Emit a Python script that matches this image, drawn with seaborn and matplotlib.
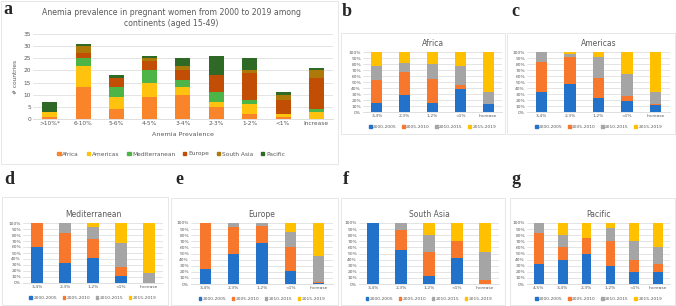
import numpy as np
import seaborn as sns
from matplotlib import pyplot as plt
from matplotlib.patches import Patch, Rectangle

# panel a: number of countries per prevalence class
prev_cats = ['>10%*', '6-10%', '5-6%', '4-5%', '3-4%', '2-3%', '1-2%', '<1%', 'Increase']
regions = ['Africa', 'Americas', 'Mediterranean', 'Europe', 'South Asia', 'Pacific']
africa = [1, 13, 4, 9, 10, 5, 2, 1, 0]
americas = [2, 9, 5, 6, 3, 2, 4, 1, 3]
mediterranean = [0, 3, 4, 5, 3, 4, 2, 0, 1]
europe = [0, 2, 4, 4, 4, 7, 11, 6, 13]
south_asia = [0, 3, 0, 1, 2, 0, 1, 2, 3]
pacific = [4, 1, 1, 1, 3, 8, 5, 1, 1]
region_colors = ['#FA8429', '#FFC20E', '#4DB548', '#C24D05', '#AD7A0A', '#2E6A26']

# panels b-g: share of countries per period (%)
periods = ['2000-2005', '2005-2010', '2010-2015', '2015-2019']
period_colors = ['#2272C9', '#F7782C', '#A5A5A5', '#FFC000']
cats5 = ['3-4%', '2-3%', '1-2%', '<1%', 'Increase']
cats6 = ['4-5%', '3-4%', '2-3%', '1-2%', '<1%', 'Increase']

africa_p = [[15, 28, 15, 38, 13], [39, 39, 40, 7, 0], [23, 15, 25, 32, 20], [23, 18, 20, 23, 67]]
americas_p = [[34, 47, 23, 19, 11], [50, 45, 34, 8, 3], [16, 4, 35, 37, 20], [0, 4, 8, 36, 66]]
medit_p = [[60, 33, 41, 11, 0], [40, 50, 33, 16, 0], [0, 17, 19, 40, 17], [0, 0, 7, 33, 83]]
europe_p = [[25, 50, 67, 22, 2], [75, 43, 28, 39, 2], [0, 7, 5, 24, 42], [0, 0, 0, 15, 54]]
sasia_p = [[100, 56, 13, 43, 0], [0, 33, 40, 28, 7], [0, 11, 27, 0, 46], [0, 0, 20, 29, 47]]
pacific_p = [[33, 40, 50, 29, 20, 19], [50, 20, 25, 42, 19, 14], [17, 20, 0, 20, 31, 27], [0, 20, 25, 9, 30, 40]]

W, H = 676.0, 306.0
TXT = '#595959'
GRID = '#D9D9D9'


def px_axes(fig, left, right, top, bottom):
    return fig.add_axes([left / W, 1 - bottom / H, (right - left) / W, (bottom - top) / H])


def px_box(fig, left, right, top, bottom):
    fig.add_artist(Rectangle((left / W, 1 - bottom / H), (right - left) / W, (bottom - top) / H,
                             transform=fig.transFigure, fill=False, edgecolor='#E3E3E3', lw=0.6))


# stacked bars with seaborn: draw cumulative totals from top series down
def stacked(ax, cats, series, colors, width):
    cum = np.cumsum(np.array(series, dtype=float), axis=0)
    for i in range(len(series) - 1, -1, -1):
        sns.barplot(x=cats, y=cum[i], order=cats, color=colors[i], width=width,
                    saturation=1, linewidth=0, ax=ax)


def style_axes(ax, fs):
    ax.set_xlabel('')
    ax.set_ylabel('')
    for s in ['top', 'right', 'left']:
        ax.spines[s].set_visible(False)
    ax.spines['bottom'].set_color(GRID)
    ax.spines['bottom'].set_linewidth(0.6)
    ax.yaxis.grid(True, color=GRID, lw=0.5)
    ax.set_axisbelow(True)
    ax.tick_params(axis='both', length=0, labelsize=fs, colors=TXT, pad=1.5)


def share_panel(fig, pos, box, label, lab_xy, title, cats, data):
    px_box(fig, *box)
    ax = px_axes(fig, *pos)
    tot = np.array(data, dtype=float).sum(axis=0)
    shares = [np.array(d) / tot for d in data]
    stacked(ax, cats, shares, period_colors, 0.4)
    style_axes(ax, 3.2)
    ax.set_ylim(0, 1)
    ax.set_yticks(np.linspace(0, 1, 11))
    ax.set_yticklabels(['{}%'.format(v) for v in range(0, 101, 10)])
    ax.set_title(title, fontsize=5.5, color=TXT, pad=4)
    handles = [Patch(color=c, label=p) for c, p in zip(period_colors, periods)]
    ax.legend(handles=handles, loc='center', bbox_to_anchor=(0.5, -0.25), ncol=4, frameon=False,
              fontsize=3.2, handlelength=0.6, handleheight=0.6, handletextpad=0.3, columnspacing=1.2,
              labelcolor=TXT)
    fig.text(lab_xy[0] / W, 1 - lab_xy[1] / H, label, fontsize=13, fontweight='bold',
             family='Liberation Serif', va='top', ha='left')
    return ax


sns.set_style('white')
plt.rcParams['font.family'] = ['DejaVu Sans']

fig = plt.figure(figsize=(6.76, 3.06), dpi=100)

# panel a
px_box(fig, 1, 338, 1, 164)
ax = px_axes(fig, 33, 333, 34, 119)
stacked(ax, prev_cats, [africa, americas, mediterranean, europe, south_asia, pacific], region_colors, 0.45)
style_axes(ax, 4.2)
ax.set_ylim(0, 35)
ax.set_yticks(range(0, 36, 5))
ax.set_ylabel('# countries', fontsize=4.2, color=TXT, labelpad=4)
ax.set_xlabel('Anemia Prevalence', fontsize=4.6, color=TXT, labelpad=4)
fig.text(171 / W, 1 - 18 / H, 'Anemia prevalence in pregnant women from 2000 to 2019 among\ncontinents (aged 15-49)',
         fontsize=5.6, color=TXT, ha='center', va='center', linespacing=1.4)
handles = [Patch(color=c, label=r) for c, r in zip(region_colors, regions)]
fig.legend(handles=handles, loc='center', bbox_to_anchor=(171 / W, 1 - 154 / H), ncol=6, frameon=False,
           fontsize=4.2, handlelength=0.6, handleheight=0.6, handletextpad=0.3, columnspacing=1.3,
           labelcolor=TXT)
fig.text(3 / W, 1 - 1 / H, 'a', fontsize=13, fontweight='bold', family='Liberation Serif', va='top', ha='left')

# panels b-g
share_panel(fig, (363, 502, 52, 112), (341, 505, 33, 134), 'b', (342, 3), 'Africa', cats5, africa_p)
share_panel(fig, (527, 670, 52, 112), (507, 675, 33, 134), 'c', (511, 3), 'Americas', cats5, americas_p)
share_panel(fig, (23, 163, 223, 283), (2, 168, 197, 305), 'd', (4, 171), 'Mediterranean', cats5, medit_p)
share_panel(fig, (191, 333, 223, 284), (171, 338, 198, 305), 'e', (175, 171), 'Europe', cats5, europe_p)
share_panel(fig, (359, 499, 223, 284), (341, 505, 198, 305), 'f', (343, 171), 'South Asia', cats5, sasia_p)
share_panel(fig, (527, 670, 223, 284), (510, 675, 198, 305), 'g', (512, 171), 'Pacific', cats6, pacific_p)

fig.savefig('out.png', dpi=100)
